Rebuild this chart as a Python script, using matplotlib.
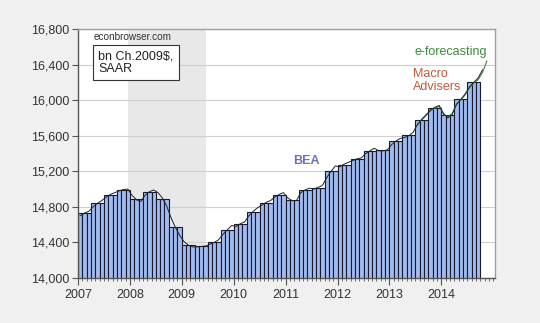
import numpy as np
import matplotlib
matplotlib.use("Agg")
import matplotlib.pyplot as plt

plt.rcParams['font.family'] = ['Liberation Sans', 'DejaVu Sans']

# BEA quarterly real GDP, bn Ch.2009$, SAAR (2007Q1 .. 2014Q3)
bea_q = [14726, 14839, 14939, 14992, 14890, 14963, 14892, 14577,
         14375, 14356, 14403, 14542, 14605, 14746, 14846, 14939,
         14881, 14990, 15012, 15200, 15275, 15337, 15432, 15434,
         15538, 15607, 15780, 15916, 15832, 16010, 16206]

# Macroeconomic Advisers monthly GDP (Jan 2007 .. Oct 2014)
macro_adv = [14700, 14730, 14750, 14800, 14840, 14870, 14910, 14940, 14960, 14980, 14995, 15000,
             14930, 14880, 14860, 14930, 14970, 14990, 14960, 14900, 14810, 14680, 14570, 14480,
             14410, 14370, 14350, 14350, 14355, 14360, 14380, 14400, 14430, 14490, 14540, 14590,
             14580, 14610, 14630, 14700, 14750, 14790, 14820, 14850, 14870, 14910, 14940, 14960,
             14900, 14870, 14870, 14960, 14990, 15010, 15000, 15020, 15040, 15130, 15200, 15260,
             15250, 15280, 15300, 15320, 15340, 15350, 15400, 15430, 15460, 15430, 15430, 15440,
             15500, 15540, 15570, 15580, 15600, 15640, 15730, 15780, 15830, 15890, 15920, 15940,
             15850, 15800, 15840, 15950, 16010, 16070, 16150, 16200, 16250, 16340]

# e-forecasting monthly GDP (Jul 2013 .. Nov 2014)
eforecast = [15720, 15790, 15840, 15880, 15910, 15930,
             15840, 15810, 15850, 15960, 16000, 16060, 16140, 16190, 16230, 16310, 16440]
eforecast_start = 78  # month index of Jul 2013

years = [2007, 2008, 2009, 2010, 2011, 2012, 2013, 2014]
yticks = np.arange(14000, 16801, 400)

bea_m = np.repeat(bea_q, 3)
n = len(bea_m)

fig = plt.figure(figsize=(5.4, 3.23), dpi=100, facecolor='#f0f0f0')
ax = fig.add_axes([0.1444, 0.1393, 0.7723, 0.7709])
ax.set_facecolor('white')

# recession shading Dec 2007 - Jun 2009
ax.axvspan(11.5, 29.5, color='#e8e8e8', zorder=0, lw=0)

for v in yticks:
    ax.axhline(v, color='#cfcfcf', lw=0.8, zorder=0.5)

ax.bar(np.arange(n), bea_m, width=1.0, align='edge', bottom=0,
       color='#a0bbf0', edgecolor='#1a1a2e', linewidth=0.8, zorder=2)

ax.plot(np.arange(len(eforecast)) + eforecast_start + 0.5, eforecast,
        color='#3c8a3c', lw=0.8, zorder=3)
ax.plot(np.arange(len(macro_adv)) + 0.5, macro_adv, color='#222222', lw=0.7, zorder=4)

ax.set_xlim(0, 96.4)
ax.set_ylim(14000, 16800)
ax.set_yticks(yticks)
ax.set_yticklabels(['{:,}'.format(v) for v in yticks])
ax.set_xticks(np.arange(0, 96, 12))
ax.set_xticklabels([str(y) for y in years])
ax.set_xticks(np.arange(0, 97, 1), minor=True)
ax.tick_params(axis='y', direction='out', length=4, color='#555555',
               labelsize=9, labelcolor='#333333', pad=2)
ax.tick_params(axis='x', which='major', direction='out', length=5, color='#555555',
               labelsize=9, labelcolor='#333333', pad=3)
ax.tick_params(axis='x', which='minor', direction='out', length=2.5, color='#555555')

for s in ['left', 'bottom']:
    ax.spines[s].set_color('#555555')
for s in ['top', 'right']:
    ax.spines[s].set_color('#a0a0a0')
for s in ax.spines.values():
    s.set_linewidth(1.0)

ax.text(3.7, 16705, 'econbrowser.com', fontsize=7.2, color='#333333', va='center')
ax.text(4.7, 16420, 'bn Ch.2009$,\nSAAR', fontsize=9, color='#222222', va='center',
        linespacing=1.1,
        bbox=dict(boxstyle='square,pad=0.4', facecolor='white', edgecolor='#333333', lw=0.8))
ax.text(52.7, 15315, 'BEA', fontsize=9, color='#6b73b8', va='center', ha='center',
        fontweight='bold')
ax.text(77.5, 16220, 'Macro\nAdvisers', fontsize=9, color='#c0583c', va='center',
        ha='left', linespacing=1.15)
ax.text(94.6, 16540, 'e-forecasting', fontsize=9, color='#3c8a3c', va='center', ha='right')

fig.savefig('out.png', dpi=100, facecolor=fig.get_facecolor())
